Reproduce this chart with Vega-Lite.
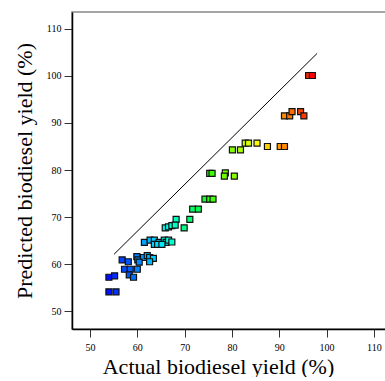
{
  "$schema": "https://vega.github.io/schema/vega-lite/v6.json",
  "width": 318,
  "height": 317,
  "padding": {"top": 12, "left": 13, "right": 0, "bottom": 0},
  "config": {
    "view": {"stroke": "#888888", "strokeWidth": 1.5},
    "font": "Liberation Serif",
    "axis": {"labelFont": "Liberation Serif", "titleFont": "Liberation Serif", "labelFontSize": 10, "labelColor": "#000", "titleColor": "#000", "titleFontWeight": "normal", "titleFontSize": 22, "domainColor": "#000", "domainWidth": 1.5, "tickColor": "#333", "tickSize": 8, "labelPadding": 3, "grid": false}
  },
  "layer": [
    {
      "data": {"values": [{"x": 55.1, "y": 62.1}, {"x": 98.0, "y": 104.8}]},
      "mark": {"type": "line", "color": "#000", "strokeWidth": 1},
      "encoding": {
        "x": {"field": "x", "type": "quantitative"},
        "y": {"field": "y", "type": "quantitative"}
      }
    },
    {
      "data": {"values": [
        {"x": 96.2, "y": 100.1}, {"x": 97.0, "y": 100.1},
        {"x": 91.1, "y": 91.5}, {"x": 92.2, "y": 91.5}, {"x": 92.7, "y": 92.4}, {"x": 94.5, "y": 92.4}, {"x": 95.2, "y": 91.5},
        {"x": 82.8, "y": 85.7}, {"x": 83.5, "y": 85.7}, {"x": 85.3, "y": 85.7}, {"x": 87.5, "y": 85.0}, {"x": 90.2, "y": 85.0}, {"x": 91.1, "y": 85.0},
        {"x": 80.1, "y": 84.3}, {"x": 81.8, "y": 84.3},
        {"x": 75.3, "y": 79.3}, {"x": 75.8, "y": 79.3}, {"x": 78.6, "y": 79.4}, {"x": 78.4, "y": 78.7}, {"x": 80.5, "y": 78.7},
        {"x": 74.3, "y": 73.8}, {"x": 75.3, "y": 73.8}, {"x": 76.0, "y": 73.8},
        {"x": 71.7, "y": 71.7}, {"x": 72.9, "y": 71.7},
        {"x": 68.2, "y": 69.5}, {"x": 71.1, "y": 69.5},
        {"x": 65.9, "y": 67.7}, {"x": 66.6, "y": 67.9}, {"x": 67.3, "y": 68.2}, {"x": 68.0, "y": 68.3}, {"x": 69.9, "y": 67.7},
        {"x": 61.5, "y": 64.6}, {"x": 62.7, "y": 65.1}, {"x": 63.6, "y": 65.1}, {"x": 63.6, "y": 64.2}, {"x": 64.6, "y": 64.6}, {"x": 65.7, "y": 65.1}, {"x": 66.1, "y": 64.6}, {"x": 66.6, "y": 65.1}, {"x": 67.3, "y": 64.7}, {"x": 64.3, "y": 64.2}, {"x": 65.2, "y": 64.2},
        {"x": 56.8, "y": 60.9}, {"x": 58.1, "y": 60.5}, {"x": 59.9, "y": 61.6}, {"x": 60.1, "y": 60.9}, {"x": 61.3, "y": 61.4}, {"x": 62.1, "y": 61.8}, {"x": 62.6, "y": 61.4}, {"x": 63.4, "y": 61.2}, {"x": 62.6, "y": 60.5}, {"x": 60.4, "y": 60.4},
        {"x": 57.3, "y": 58.9}, {"x": 58.5, "y": 58.9}, {"x": 60.0, "y": 58.9},
        {"x": 58.3, "y": 57.7}, {"x": 59.2, "y": 57.2},
        {"x": 54.0, "y": 57.2}, {"x": 55.2, "y": 57.5},
        {"x": 54.0, "y": 54.1}, {"x": 55.5, "y": 54.1}
      ]},
      "mark": {"type": "square", "size": 36, "opacity": 1, "stroke": "#111", "strokeWidth": 1.2},
      "encoding": {
        "x": {"field": "x", "type": "quantitative", "scale": {"domain": [46.2, 113.4], "nice": false, "zero": false}, "axis": {"values": [50, 60, 70, 80, 90, 100, 110], "title": "Actual biodiesel yield (%)", "labelPadding": 5, "titlePadding": 4, "titleX": 146}},
        "y": {"field": "y", "type": "quantitative", "scale": {"domain": [46.2, 113.6], "nice": false, "zero": false}, "axis": {"values": [50, 60, 70, 80, 90, 100, 110], "title": "Predicted biodiesel yield (%)", "titlePadding": 10}},
        "color": {"field": "x", "type": "quantitative", "legend": null, "scale": {"domain": [54, 58, 61.5, 64, 67, 70, 75, 81, 85, 87.5, 91, 94.5, 97], "range": ["#0010ff", "#0050ff", "#00a0ff", "#00d8ff", "#00ffd8", "#00ff80", "#20ff10", "#90ff00", "#ffff00", "#ffd000", "#ff8c00", "#ff4000", "#ff0000"]}}
      }
    }
  ]
}
